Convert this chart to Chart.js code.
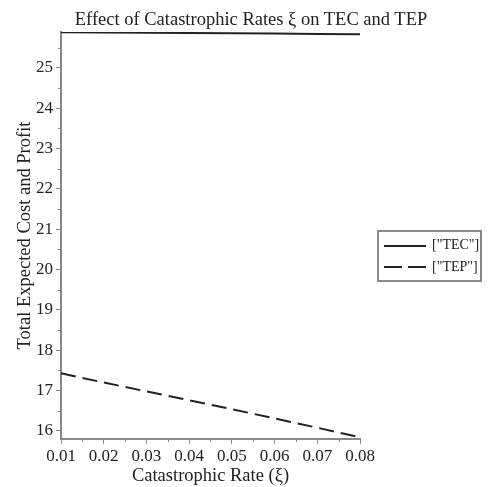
<!DOCTYPE html>
<html><head><meta charset="utf-8">
<script src="https://cdn.jsdelivr.net/npm/chart.js@4/dist/chart.umd.min.js"></script>
<style>
html,body{margin:0;padding:0;background:#fff;}
#wrap{position:relative;width:489px;height:487px;font-family:"Liberation Serif","DejaVu Serif",serif;}
#title{position:absolute;left:13px;top:8px;width:476px;text-align:center;font-size:18.5px;line-height:22px;color:#222;white-space:nowrap;}
#legend{position:absolute;left:377px;top:230px;width:101px;height:48px;border:2px solid #888;box-sizing:content-box;font-size:14px;color:#222;}
.row{position:absolute;left:0;height:22px;width:101px;}
.row svg{position:absolute;left:3px;top:0;}
.row span{position:absolute;left:53px;top:2px;line-height:18px;}
</style></head>
<body>
<div id="wrap">
<canvas id="c" width="489" height="487"></canvas>
<div id="title">Effect of Catastrophic Rates ξ on TEC and TEP</div>
<div id="legend">
 <div class="row" style="top:2px"><svg width="46" height="22"><line x1="2" y1="12" x2="44" y2="12" stroke="#222" stroke-width="2"/></svg><span>["TEC"]</span></div>
 <div class="row" style="top:24px"><svg width="46" height="22"><line x1="2" y1="11" x2="44" y2="11" stroke="#222" stroke-width="2" stroke-dasharray="18,6"/></svg><span>["TEP"]</span></div>
</div>
</div>
<script>
const xValues = [0.01, 0.02, 0.03, 0.04, 0.05, 0.06, 0.07, 0.08];
const tecValues = [25.885, 25.878, 25.871, 25.864, 25.857, 25.850, 25.843, 25.836];
const tepValues = [17.43, 17.20, 16.98, 16.76, 16.54, 16.31, 16.08, 15.84];
const xTicks = [0.01, 0.02, 0.03, 0.04, 0.05, 0.06, 0.07, 0.08];
const yTicks = [16, 17, 18, 19, 20, 21, 22, 23, 24, 25];
const xMinor = [0.015, 0.025, 0.035, 0.045, 0.055, 0.065, 0.075];
const yMinor = [16.5, 17.5, 18.5, 19.5, 20.5, 21.5, 22.5, 23.5, 24.5, 25.5];

const FONT = "'Liberation Serif','DejaVu Serif',serif";
const AX = '#888';

const minorTicks = {
  id: 'minorTicks',
  afterDraw(chart) {
    const ctx = chart.ctx, xs = chart.scales.x, ys = chart.scales.y;
    ctx.save();
    ctx.strokeStyle = AX; ctx.lineWidth = 1;
    xMinor.forEach(v => {
      const px = Math.round(xs.getPixelForValue(v)) + 0.5;
      ctx.beginPath(); ctx.moveTo(px, xs.top); ctx.lineTo(px, xs.top + 3); ctx.stroke();
    });
    yMinor.forEach(v => {
      const py = Math.round(ys.getPixelForValue(v)) + 0.5;
      ctx.beginPath(); ctx.moveTo(ys.right, py); ctx.lineTo(ys.right - 3, py); ctx.stroke();
    });
    ctx.restore();
  }
};

new Chart(document.getElementById('c'), {
  type: 'line',
  data: {
    datasets: [
      { label: '["TEC"]', data: xValues.map((x, i) => ({x, y: tecValues[i]})), borderColor: '#222', borderWidth: 2, pointRadius: 0, fill: false, tension: 0 },
      { label: '["TEP"]', data: xValues.map((x, i) => ({x, y: tepValues[i]})), borderColor: '#222', borderWidth: 2, borderDash: [15, 7], pointRadius: 0, fill: false, tension: 0 }
    ]
  },
  options: {
    responsive: false, animation: false,
    layout: { padding: { top: 32, right: 129, left: 0, bottom: 0 } },
    plugins: { legend: { display: false }, title: { display: false }, tooltip: { enabled: false } },
    scales: {
      x: {
        type: 'linear', min: 0.01, max: 0.08,
        afterBuildTicks: s => { s.ticks = xTicks.map(v => ({value: v})); },
        afterFit: s => { s.height = 48; },
        ticks: { font: { family: FONT, size: 17 }, color: '#222', padding: 2, callback: v => v.toFixed(2), maxRotation: 0, autoSkip: false },
        grid: { drawOnChartArea: false, tickLength: 5, color: AX, lineWidth: 1 },
        border: { color: AX, width: 2 },
        title: { display: true, text: 'Catastrophic Rate (ξ)', font: { family: FONT, size: 18.5 }, color: '#222', padding: { top: 0, bottom: 0 } }
      },
      y: {
        type: 'linear', min: 15.8, max: 25.89,
        afterBuildTicks: s => { s.ticks = yTicks.map(v => ({value: v})); },
        afterFit: s => { s.width = 61; },
        ticks: { font: { family: FONT, size: 17 }, color: '#222', padding: 3, callback: v => String(v), autoSkip: false },
        grid: { drawOnChartArea: false, tickLength: 5, color: AX, lineWidth: 1 },
        border: { color: AX, width: 2 },
        title: { display: true, text: 'Total Expected Cost and Profit', font: { family: FONT, size: 18.5 }, color: '#222', padding: { top: 14, bottom: 0 } }
      }
    }
  },
  plugins: [minorTicks]
});
</script>
</body></html>
